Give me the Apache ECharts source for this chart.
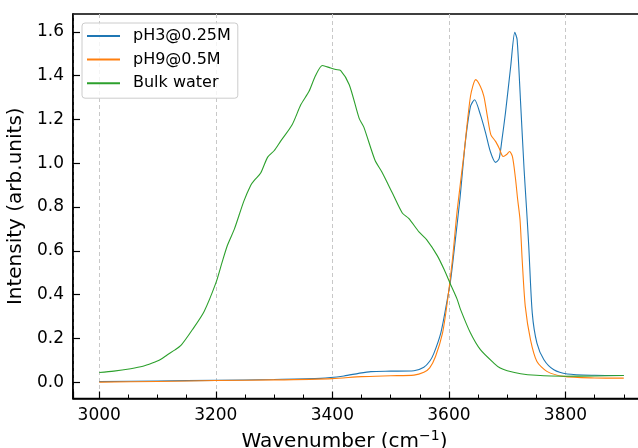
<!DOCTYPE html>
<html>
<head>
<meta charset="utf-8">
<script src="https://cdn.jsdelivr.net/npm/echarts@6/dist/echarts.min.js"></script>
<style>
html,body{margin:0;padding:0;background:#fff;}
#chart{width:638px;height:448px;}
</style>
</head>
<body>
<div id="chart"></div>
<script>
// ---- Data ----
const seriesNames = ['pH3@0.25M', 'pH9@0.5M', 'Bulk water'];

const ph3X = [3000, 3100, 3200, 3300, 3380, 3420, 3445, 3466, 3500, 3540, 3557, 3567, 3574, 3586, 3594, 3603, 3611, 3619, 3628, 3637, 3644, 3654, 3663, 3671, 3680, 3686, 3691, 3697, 3706, 3713, 3717, 3723, 3729, 3733, 3737, 3743, 3751, 3763, 3780, 3803, 3850, 3900];
const ph3Y = [0.002, 0.005, 0.008, 0.012, 0.017, 0.028, 0.040, 0.048, 0.050, 0.052, 0.068, 0.095, 0.130, 0.224, 0.330, 0.468, 0.650, 0.840, 1.093, 1.260, 1.290, 1.222, 1.138, 1.054, 1.004, 1.020, 1.108, 1.230, 1.443, 1.598, 1.565, 1.275, 0.970, 0.800, 0.620, 0.315, 0.178, 0.102, 0.056, 0.037, 0.031, 0.030];

const ph9X = [3000, 3100, 3200, 3300, 3400, 3450, 3500, 3540, 3557, 3567, 3577, 3589, 3597, 3606, 3614, 3626, 3637, 3646, 3654, 3660, 3666, 3672, 3680, 3686, 3693, 3699, 3704, 3709, 3714, 3718, 3722, 3726, 3731, 3740, 3751, 3768, 3797, 3850, 3900];
const ph9Y = [0.000, 0.003, 0.007, 0.010, 0.016, 0.025, 0.029, 0.032, 0.045, 0.065, 0.117, 0.224, 0.361, 0.559, 0.780, 1.047, 1.306, 1.382, 1.351, 1.306, 1.214, 1.130, 1.100, 1.070, 1.031, 1.040, 1.054, 1.030, 0.935, 0.833, 0.742, 0.544, 0.346, 0.193, 0.094, 0.049, 0.026, 0.019, 0.018];

const bulkX = [3000, 3025, 3054, 3075, 3091, 3105, 3117, 3130, 3141, 3160, 3180, 3200, 3210, 3220, 3232, 3248, 3260, 3266, 3277, 3289, 3300, 3311, 3331, 3346, 3360, 3371, 3383, 3397, 3406, 3414, 3429, 3446, 3454, 3473, 3485, 3503, 3520, 3531, 3549, 3562, 3580, 3592, 3603, 3614, 3620, 3637, 3654, 3677, 3688, 3700, 3723, 3750, 3797, 3850, 3900];
const bulkY = [0.044, 0.050, 0.061, 0.072, 0.087, 0.103, 0.125, 0.147, 0.170, 0.240, 0.323, 0.452, 0.540, 0.625, 0.700, 0.826, 0.900, 0.922, 0.955, 1.028, 1.057, 1.100, 1.176, 1.268, 1.329, 1.400, 1.447, 1.435, 1.428, 1.424, 1.359, 1.205, 1.165, 1.015, 0.960, 0.864, 0.773, 0.748, 0.685, 0.650, 0.578, 0.513, 0.445, 0.379, 0.331, 0.224, 0.148, 0.087, 0.064, 0.052, 0.038, 0.031, 0.027, 0.028, 0.030];

const xLimits = [2955, 3945];
const yLimits = [-0.075, 1.682];
const colors = ['#1f77b4', '#ff7f0e', '#2ca02c'];

const pairs = (xs, ys) => xs.map((x, i) => [x, ys[i]]);

const FONT = 'DejaVu Sans';
const chart = echarts.init(document.getElementById('chart'), null, {renderer: 'canvas'});

const option = {
  animation: false,
  backgroundColor: '#ffffff',
  color: colors,
  grid: {
    left: 73, top: 14, width: 577, height: 384.5,
    outerBoundsMode: 'none',
    containLabel: false,
    show: true, borderColor: '#000', borderWidth: 1.6, backgroundColor: 'transparent'
  },
  legend: {
    orient: 'vertical',
    left: 82, top: 23,
    padding: [5, 7, 7, 5],
    itemGap: 7.6,
    itemWidth: 33,
    itemHeight: 2,
    icon: 'rect',
    borderColor: '#cccccc',
    borderWidth: 1,
    borderRadius: 3,
    backgroundColor: 'rgba(255,255,255,0.8)',
    textStyle: {fontFamily: FONT, fontSize: 16, color: '#000', lineHeight: 16, padding: [0, 0, 0, 8]},
    data: seriesNames
  },
  xAxis: {
    type: 'value',
    min: xLimits[0], max: xLimits[1],
    splitNumber: 5,
    name: '{a|Wavenumber (cm}{s|−1}{a|)}',
    nameLocation: 'middle',
    nameGap: 30,
    nameTextStyle: {
      padding: [0, 34, 0, 0],
      rich: {
        a: {fontFamily: FONT, fontSize: 20, color: '#000', lineHeight: 22, verticalAlign: 'bottom'},
        s: {fontFamily: FONT, fontSize: 14, color: '#000', lineHeight: 22, verticalAlign: 'top', padding: [0, 0, 6, 0]}
      }
    },
    axisLine: {show: true, onZero: false, lineStyle: {color: '#000', width: 1.6}},
    axisTick: {show: true, inside: true, length: 7, lineStyle: {color: '#000', width: 1.2}},
    minorTick: {show: true, splitNumber: 4, length: 4, lineStyle: {color: '#000', width: 1}},
    axisLabel: {
      show: true, fontFamily: FONT, fontSize: 17, color: '#000', margin: 9,
      showMinLabel: false, showMaxLabel: false,
      formatter: v => (Math.abs(v % 200) < 1e-6 ? String(v) : '')
    },
    splitLine: {show: true, lineStyle: {color: '#c8c8c8', width: 1, type: [4, 3]}},
    minorSplitLine: {show: false}
  },
  yAxis: {
    type: 'value',
    min: yLimits[0], max: yLimits[1],
    splitNumber: 9,
    name: 'Intensity (arb.units)',
    nameLocation: 'middle',
    nameGap: 36,
    nameRotate: 90,
    nameTextStyle: {fontFamily: FONT, fontSize: 20, color: '#000'},
    axisLine: {show: true, onZero: false, lineStyle: {color: '#000', width: 1.6}},
    axisTick: {show: true, inside: true, length: 7, lineStyle: {color: '#000', width: 1.2}},
    axisLabel: {
      show: true, fontFamily: FONT, fontSize: 17, color: '#000', margin: 9,
      showMinLabel: false, showMaxLabel: false,
      formatter: v => {
        const r = Math.round(v / 0.2);
        if (Math.abs(v - r * 0.2) > 1e-6) return '';
        return (Math.abs(v) < 1e-9 ? 0 : v).toFixed(1);
      }
    },
    splitLine: {show: false}
  },
  series: [
    {name: seriesNames[0], type: 'line', data: pairs(ph3X, ph3Y), showSymbol: false, symbol: 'none', smooth: 0.25, lineStyle: {width: 1.1, color: colors[0]}, z: 3},
    {name: seriesNames[1], type: 'line', data: pairs(ph9X, ph9Y), showSymbol: false, symbol: 'none', smooth: 0.25, lineStyle: {width: 1.1, color: colors[1]}, z: 4},
    {name: seriesNames[2], type: 'line', data: pairs(bulkX, bulkY), showSymbol: false, symbol: 'none', smooth: 0.25, lineStyle: {width: 1.1, color: colors[2]}, z: 5}
  ]
};
chart.setOption(option);
</script>
</body>
</html>
